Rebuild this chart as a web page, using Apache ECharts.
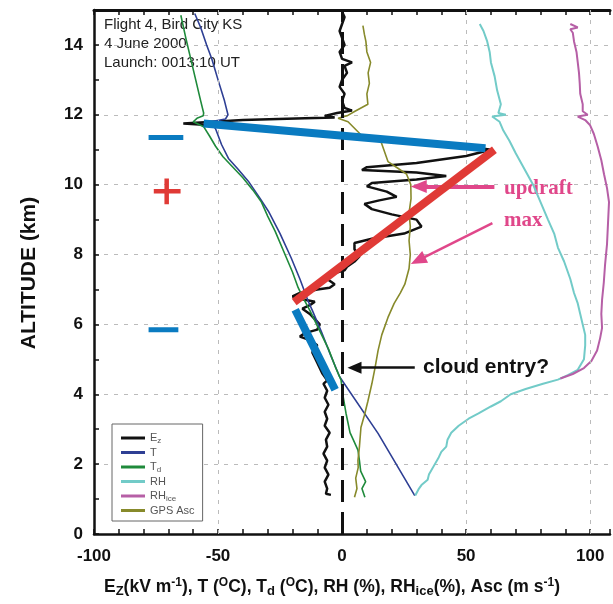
<!DOCTYPE html>
<html><head><meta charset="utf-8">
<script src="https://cdn.jsdelivr.net/npm/echarts@6/dist/echarts.min.js"></script>
<style>html,body{margin:0;padding:0;background:#fff}#c{width:613px;height:604px}</style>
</head><body><div id="c"></div>
<script>
// ---- tick labels ----
const xTickLabels = [-100, -50, 0, 50, 100];
const yTickLabels = [0, 2, 4, 6, 8, 10, 12, 14];
const xGridValues = [-50, 50, 100];

// ---- profiles: [value, altitude km] ----
const ezData = [[-4.5,1.12],[-6.5,1.15],[-6,1.3],[-7,1.5],[-5.5,1.7],[-7,1.9],[-6,2.1],[-7.5,2.3],[-6,2.5],[-6.5,2.7],[-5,2.9],[-7,3.1],[-6,3.3],[-7,3.5],[-5.5,3.7],[-7,3.9],[-6,4.1],[-7.5,4.3],[-6,4.4],[-8,4.6],[-10,4.9],[-12,5.2],[-10,5.4],[-13,5.55],[-17,5.65],[-15,5.75],[-10,5.85],[-9,6.0],[-11,6.15],[-13,6.3],[-16,6.45],[-13,6.55],[-11,6.65],[-16,6.72],[-20,6.8],[-17,6.9],[-10,7.0],[-5,7.05],[-3,7.15],[-6,7.3],[-4,7.45],[1,7.55],[2,7.65],[5,7.8],[7,7.95],[5,8.15],[5,8.33],[12,8.45],[25,8.6],[32,8.8],[30,9.0],[20,9.15],[12,9.3],[9,9.45],[15,9.55],[22,9.65],[18,9.8],[10,9.95],[12,10.05],[30,10.15],[42,10.25],[30,10.35],[8,10.42],[10,10.5],[30,10.62],[50,10.82],[60,11.0],[55,11.05],[30,11.25],[0,11.45],[-30,11.6],[-64,11.75],[-40,11.85],[-15,11.9],[-3,11.92],[-7,11.97],[-2,12.05],[4,12.12],[1,12.2],[0,12.4],[1,12.6],[-1,12.8],[0,13.0],[2,13.2],[1,13.4],[4,13.5],[0,13.6],[-1,13.8],[1,14.0],[0,14.2],[-1,14.4],[0,14.6],[1,14.8],[0,14.95]];
const tData = [[29.3,1.1],[14.5,2.88],[-1,4.5],[-4.5,5.1],[-8.4,5.8],[-12,6.4],[-13.7,6.67],[-17,7.3],[-20.5,7.9],[-25,8.6],[-29.7,9.24],[-33,9.6],[-37.8,10.1],[-42,10.45],[-45.8,10.75],[-48.6,11.15],[-51,11.6],[-53,11.8],[-47,11.88],[-46,12.0],[-47.4,12.4],[-50,13.0],[-52.5,13.6],[-54.6,14.0],[-57,14.5],[-59.4,14.9]];
const tdData = [[9.2,1.05],[8,1.3],[9.5,1.5],[7.5,1.8],[7,2.1],[6.4,2.4],[4.5,2.7],[3.2,2.9],[1.6,3.45],[0.5,3.9],[-0.4,4.4],[-2.8,4.8],[-5.5,5.3],[-9.6,5.9],[-13,6.4],[-15.7,6.76],[-17.7,7.05],[-20,7.5],[-23,8.0],[-27,8.67],[-30,9.1],[-32.5,9.5],[-36,9.85],[-40,10.2],[-44,10.5],[-48,10.8],[-51,11.1],[-53.5,11.4],[-55.8,11.66],[-60,11.8],[-58.5,11.9],[-56,11.97],[-55.8,12.05],[-57,12.4],[-59,13.0],[-61,13.6],[-63,14.2],[-65,14.85]];
const rhData = [[29.5,1.1],[31,1.3],[32,1.4],[34.5,1.55],[35,1.7],[37,1.95],[39,2.2],[40,2.35],[42,2.5],[42.5,2.7],[44,2.9],[47,3.1],[51,3.3],[55,3.45],[60,3.65],[64,3.8],[68,4.0],[74,4.15],[81,4.3],[87,4.42],[91,4.55],[95,4.7],[97.5,5.0],[98,5.4],[98,5.7],[97,6.0],[96,6.3],[95,6.6],[93.5,6.9],[92,7.3],[89.5,7.8],[87,8.2],[85.5,8.6],[83,9.0],[80,9.5],[77,10.0],[73.5,10.45],[70,10.9],[67.5,11.25],[65,11.55],[63.5,11.8],[60.5,11.95],[66,12.0],[63,12.05],[64,12.3],[62.5,12.7],[61.5,13.1],[60,13.5],[59.5,13.8],[58.5,14.1],[57,14.4],[55.5,14.6]];
const rhIceData = [[88,4.45],[93,4.58],[97.5,4.75],[100.5,4.95],[102.8,5.25],[104,5.6],[104.8,5.9],[104.5,6.3],[104.8,6.7],[105.5,7.2],[106,7.7],[106.8,8.3],[107.2,8.9],[107.6,9.5],[106.8,9.9],[105.6,10.3],[104.5,10.7],[103,11.1],[101.5,11.45],[100,11.7],[98,11.85],[95,11.95],[99,12.0],[97,12.1],[97,12.3],[96,12.6],[95.8,12.9],[95.5,13.2],[95,13.5],[94.5,13.8],[93.5,14.1],[93,14.35],[92,14.45],[95,14.5],[92,14.6]];
const gpsData = [[5,1.05],[6,1.3],[5.5,1.6],[6.5,1.9],[6.4,2.1],[7,2.5],[7.6,3.05],[9,3.4],[10.4,3.8],[12,4.3],[13.3,4.76],[14.5,5.25],[16,5.7],[18.5,6.2],[21,6.6],[23.5,6.9],[25.3,7.15],[27,7.6],[27.5,8.0],[27,8.4],[27.5,8.8],[27,9.2],[27.8,9.6],[27.7,10.0],[26,10.3],[22.5,10.47],[18.5,10.66],[15.7,11.23],[12,11.35],[7.6,11.43],[2.4,11.8],[-1.6,11.9],[2,11.97],[5.2,12.1],[10.4,12.3],[10,12.6],[11,12.9],[10.5,13.2],[11.5,13.5],[10,13.8],[9.6,14.1],[9,14.3],[8.4,14.55]];

// ---- annotation geometry (data coordinates) ----
const blueUpper = [[-55.8,11.75],[57.8,11.04]];
const blueLower = [[-18.9,6.42],[-2.8,4.13]];
const redLine = [[-19.3,6.64],[61.4,11.0]];
const minusUpper = [[-78,11.35],[-64,11.35]];
const minusLower = [[-78,5.85],[-66,5.85]];
const plusH = [[-75.9,9.81],[-65.1,9.81]];
const plusV = [[-70.7,10.18],[-70.7,9.44]];
const arrowUpdraft1 = [[61.4,9.95],[30.9,9.95]];
const arrowUpdraft2 = [[60.6,8.9],[30.6,7.83]];
const arrowCloud = [[29.3,4.76],[5.0,4.76]];

const chart = echarts.init(document.getElementById('c'), null, {renderer:'canvas'});
const F = 'Liberation Sans, Arial, sans-serif';
function prof(name, data, color, width){
  return {name, type:'line', data, showSymbol:false, symbol:'none', lineStyle:{color, width}, itemStyle:{color}, animation:false, z:3, silent:true};
}
function seg(data, color, width){
  return {type:'line', data, showSymbol:false, symbol:'none', lineStyle:{color, width, cap:'butt'}, animation:false, z:5, silent:true};
}
function arrow(pts, color, width, size){
  return {type:'line', data:[], animation:false, silent:true, z:6,
    markLine:{silent:true, symbol:['none','triangle'], symbolSize:size, animation:false,
      label:{show:false}, lineStyle:{color, width, type:'solid'},
      data:[[{coord:pts[0]},{coord:pts[1]}]]}};
}
const axisBase = {min:-100, max:108, interval:10};
const option = {
  backgroundColor:'#fff',
  animation:false,
  grid:{left:94, right:0, top:10, bottom:70, containLabel:false},
  xAxis:[
    Object.assign({type:'value', position:'bottom',
      axisLine:{show:true, onZero:false, lineStyle:{color:'#111', width:2.5}},
      axisTick:{show:true, inside:true, length:5, lineStyle:{color:'#111', width:1.5}},
      axisLabel:{show:true, margin:14, color:'#111', fontFamily:F, fontWeight:'bold', fontSize:17,
        formatter:v => xTickLabels.includes(v) ? String(v) : ''},
      splitLine:{show:false}}, axisBase),
    Object.assign({type:'value', position:'top',
      axisLine:{show:true, onZero:false, lineStyle:{color:'#111', width:3}},
      axisTick:{show:true, inside:true, length:5, lineStyle:{color:'#111', width:1.5}},
      axisLabel:{show:false}, splitLine:{show:false}}, axisBase)
  ],
  yAxis:[
    {type:'value', min:0, max:15, interval:1, position:'left',
      axisLine:{show:true, onZero:false, lineStyle:{color:'#111', width:2.5}},
      axisTick:{show:true, inside:true, length:5, lineStyle:{color:'#111', width:1.5}},
      axisLabel:{show:true, margin:11, color:'#111', fontFamily:F, fontWeight:'bold', fontSize:17,
        formatter:v => yTickLabels.includes(v) ? String(v) : ''},
      splitLine:{show:false}},
    {type:'value', min:0, max:15, interval:2, position:'right',
      axisLine:{show:false}, axisTick:{show:false}, axisLabel:{show:false},
      splitLine:{show:true, lineStyle:{color:'#bbb', width:1, type:[4,6]}}}
  ],
  legend:{
    left:112, top:424, orient:'vertical', icon:'rect', itemWidth:24, itemHeight:3, itemGap:2,
    padding:[7,8,5,9], borderColor:'#666', borderWidth:1, backgroundColor:'#fff',
    selectedMode:false,
    data:['Ez','T','Td','RH','RHice','GPS Asc'],
    formatter:n => ({Ez:'{t|E}{s|z}', Td:'{t|T}{s|d}', RHice:'{t|RH}{s|ice}'}[n] || '{t|'+n+'}'),
    textStyle:{color:'#555', fontFamily:F, fontSize:10,
      rich:{t:{fontSize:11, color:'#555', fontFamily:F, lineHeight:12},
            s:{fontSize:8, color:'#555', fontFamily:F, padding:[6,0,0,0], lineHeight:12}}}
  },
  series:[
    {type:'line', data:[], animation:false, silent:true, z:1,
      markLine:{silent:true, symbol:['none','none'], animation:false, label:{show:false},
        lineStyle:{color:'#bbb', width:1, type:[4,6]}, data:xGridValues.map(v => ({xAxis:v}))}},
    prof('Ez', ezData, '#111111', 2.5),
    prof('T', tData, '#2e3f94', 1.6),
    prof('Td', tdData, '#1f8a3b', 1.6),
    prof('RH', rhData, '#72cbc8', 2),
    prof('RHice', rhIceData, '#b65fa6', 2),
    prof('GPS Asc', gpsData, '#878a2b', 1.6),
    {type:'line', data:[], animation:false, silent:true, z:2,
      markLine:{silent:true, symbol:['none','none'], animation:false, label:{show:false},
        lineStyle:{color:'#111', width:3, type:[22,10]}, data:[{xAxis:0}]}},
    seg(blueUpper, '#0a7bc1', 8),
    seg(redLine, '#e03a36', 8),
    seg(blueLower, '#0a7bc1', 8),
    seg(minusUpper, '#0a7bc1', 5),
    seg(minusLower, '#0a7bc1', 5),
    seg(plusH, '#e03a36', 4.5),
    seg(plusV, '#e03a36', 4.5),
    arrow(arrowUpdraft1, '#e0478a', 4, [13,16]),
    arrow(arrowUpdraft2, '#e0478a', 2.5, [13,16]),
    arrow(arrowCloud, '#111', 2.5, [12,14])
  ],
  graphic:[
    {type:'text', x:104, y:25, style:{text:'Flight 4, Bird City KS', font:'15px '+F, fill:'#222', verticalAlign:'middle'}},
    {type:'text', x:104, y:44, style:{text:'4 June 2000', font:'15px '+F, fill:'#222', verticalAlign:'middle'}},
    {type:'text', x:104, y:63, style:{text:'Launch: 0013:10 UT', font:'15px '+F, fill:'#222', verticalAlign:'middle'}},
    {type:'text', x:29, y:273, rotation:Math.PI/2, style:{text:'ALTITUDE (km)', font:'bold 21px '+F, fill:'#111', align:'center', verticalAlign:'middle'}},
    {type:'text', x:332, y:587, style:{
      text:'{m|E}{sb|Z}{m|(kV m}{sp|-1}{m|), T (}{sp|O}{m|C), T}{sb|d}{m| (}{sp|O}{m|C), RH (%), RH}{sb|ice}{m|(%), Asc (m s}{sp|-1}{m|)}',
      align:'center', verticalAlign:'middle',
      rich:{m:{font:'bold 17.5px '+F, fill:'#111', lineHeight:24},
            sb:{font:'bold 13px '+F, fill:'#111', padding:[8,0,0,0], lineHeight:24},
            sp:{font:'bold 12px '+F, fill:'#111', padding:[0,0,9,0], lineHeight:24}}}},
    {type:'text', x:504, y:189, style:{text:'updraft', font:'bold 21px Liberation Serif, serif', fill:'#e0478a', verticalAlign:'middle'}},
    {type:'text', x:504, y:221, style:{text:'max', font:'bold 21px Liberation Serif, serif', fill:'#e0478a', verticalAlign:'middle'}},
    {type:'text', x:423, y:367, style:{text:'cloud entry?', font:'bold 21px '+F, fill:'#111', verticalAlign:'middle'}}
  ]
};
chart.setOption(option);
</script>
</body></html>
